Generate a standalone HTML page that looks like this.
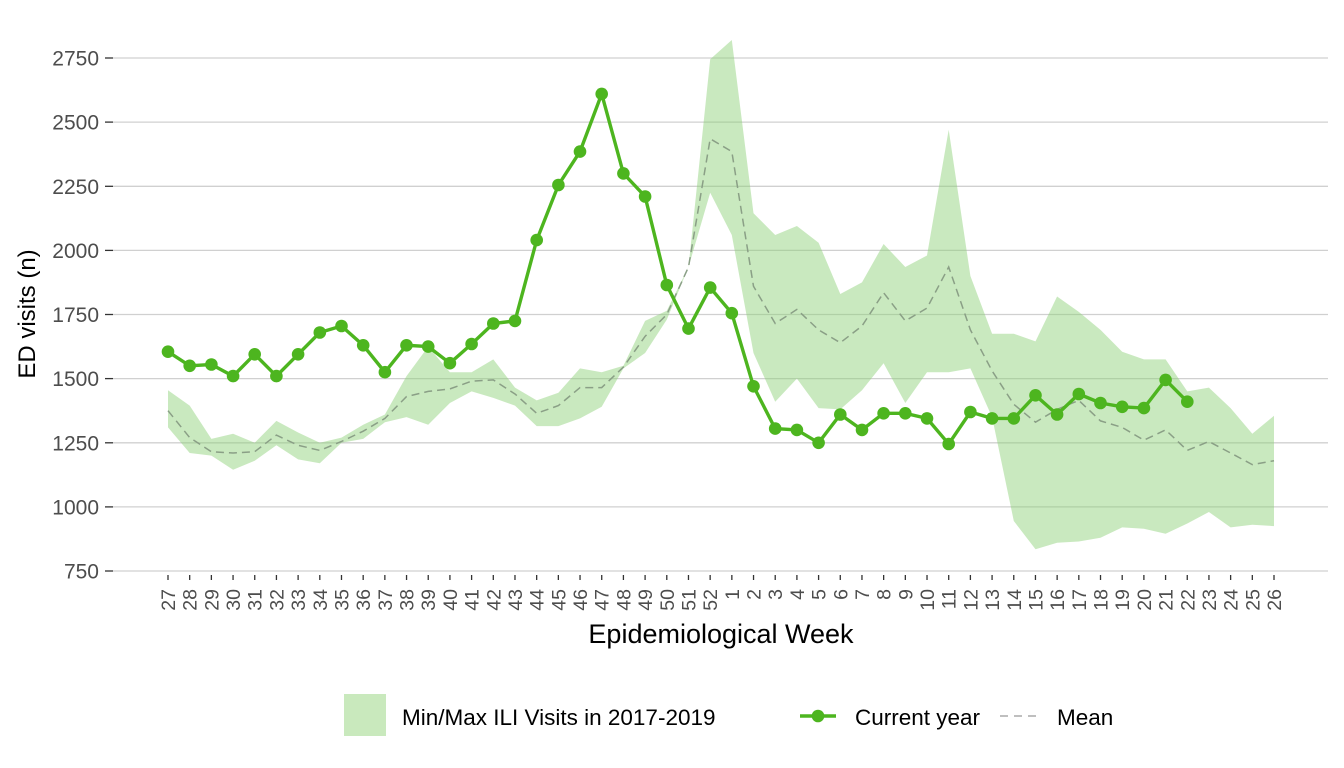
<!DOCTYPE html>
<html><head><meta charset="utf-8"><style>body{margin:0;background:#fff}svg{display:block}text{font-family:"Liberation Sans",Arial,sans-serif}</style></head>
<body>
<svg id="s" width="1344" height="768" xmlns="http://www.w3.org/2000/svg"></svg>
<script>
const weeks=[27,28,29,30,31,32,33,34,35,36,37,38,39,40,41,42,43,44,45,46,47,48,49,50,51,52,1,2,3,4,5,6,7,8,9,10,11,12,13,14,15,16,17,18,19,20,21,22,23,24,25,26];
const cur=[1605,1550,1555,1510,1595,1510,1595,1680,1705,1630,1525,1630,1625,1560,1635,1715,1725,2040,2255,2385,2610,2300,2210,1865,1695,1855,1755,1470,1305,1300,1250,1360,1300,1365,1365,1345,1245,1370,1345,1345,1435,1360,1440,1405,1390,1385,1495,1410];
const mx=[1455,1395,1265,1285,1250,1335,1290,1250,1270,1320,1360,1510,1625,1525,1525,1575,1465,1415,1445,1540,1525,1550,1725,1765,1935,2745,2820,2145,2060,2095,2030,1830,1875,2025,1935,1980,2470,1900,1675,1675,1645,1820,1760,1690,1605,1575,1575,1450,1465,1385,1285,1355];
const mn=[1310,1210,1200,1145,1180,1240,1185,1170,1250,1265,1330,1350,1320,1405,1450,1425,1395,1315,1315,1345,1390,1540,1600,1730,1935,2225,2060,1600,1410,1500,1385,1380,1455,1560,1405,1525,1525,1540,1350,945,835,860,865,880,920,915,895,935,980,920,930,925];
const mean=[1375,1270,1215,1210,1215,1280,1240,1220,1255,1295,1345,1430,1450,1460,1490,1495,1440,1365,1395,1465,1465,1545,1665,1750,1935,2435,2385,1860,1715,1770,1690,1640,1705,1835,1725,1775,1935,1690,1530,1400,1330,1380,1415,1335,1310,1260,1300,1220,1255,1210,1165,1180];
const X=i=>168+i*(1274-168)/51, Y=v=>571-(v-750)*513/2000;
let h='';
for(let v=750;v<=2750;v+=250){const y=Y(v).toFixed(1);
h+=`<line x1="113" x2="1328" y1="${y}" y2="${y}" stroke="#d0d0d0" stroke-width="1.3"/>`;
h+=`<line x1="105" x2="113" y1="${y}" y2="${y}" stroke="#333" stroke-width="1.3"/>`;
h+=`<text x="99" y="${+y+7.5}" font-size="21" fill="#4d4d4d" text-anchor="end">${v}</text>`;}
let p=mx.map((v,i)=>X(i).toFixed(1)+','+Y(v).toFixed(1)).join(' ')+' '+mn.map((v,i)=>X(i).toFixed(1)+','+Y(v).toFixed(1)).reverse().join(' ');
h+=`<polygon points="${p}" fill="#8fd17a" fill-opacity="0.48"/>`;
h+=`<polyline points="${mean.map((v,i)=>X(i).toFixed(1)+','+Y(v).toFixed(1)).join(' ')}" fill="none" stroke="#8a9f86" stroke-width="1.5" stroke-dasharray="8,5"/>`;
h+=`<polyline points="${cur.map((v,i)=>X(i).toFixed(1)+','+Y(v).toFixed(1)).join(' ')}" fill="none" stroke="#4db51f" stroke-width="3.4"/>`;
cur.forEach((v,i)=>h+=`<circle cx="${X(i).toFixed(1)}" cy="${Y(v).toFixed(1)}" r="6.3" fill="#4db51f"/>`);
weeks.forEach((w,i)=>{const x=X(i);
h+=`<line x1="${x}" x2="${x}" y1="575" y2="580" stroke="#333" stroke-width="1.3"/>`;
h+=`<text transform="translate(${x+7},589) rotate(-90)" font-size="19.5" fill="#4d4d4d" text-anchor="end">${w}</text>`;});
h+=`<text x="721" y="643" font-size="27" fill="#000" text-anchor="middle">Epidemiological Week</text>`;
h+=`<text transform="translate(35,314) rotate(-90)" font-size="24" fill="#000" text-anchor="middle">ED visits (n)</text>`;
h+=`<rect x="344" y="694" width="42" height="42" fill="#c9e9bd"/>`;
h+=`<text x="402" y="725" font-size="22.5" fill="#000">Min/Max ILI Visits in 2017-2019</text>`;
h+=`<line x1="800" x2="836" y1="716" y2="716" stroke="#4db51f" stroke-width="3.4"/><circle cx="818" cy="716" r="6.3" fill="#4db51f"/>`;
h+=`<text x="855" y="725" font-size="22.5" fill="#000">Current year</text>`;
h+=`<line x1="1000" x2="1036" y1="716" y2="716" stroke="#aaa" stroke-width="1.5" stroke-dasharray="8,6"/>`;
h+=`<text x="1057" y="725" font-size="22.5" fill="#000">Mean</text>`;
document.getElementById('s').innerHTML=h;
</script>
</body></html>
